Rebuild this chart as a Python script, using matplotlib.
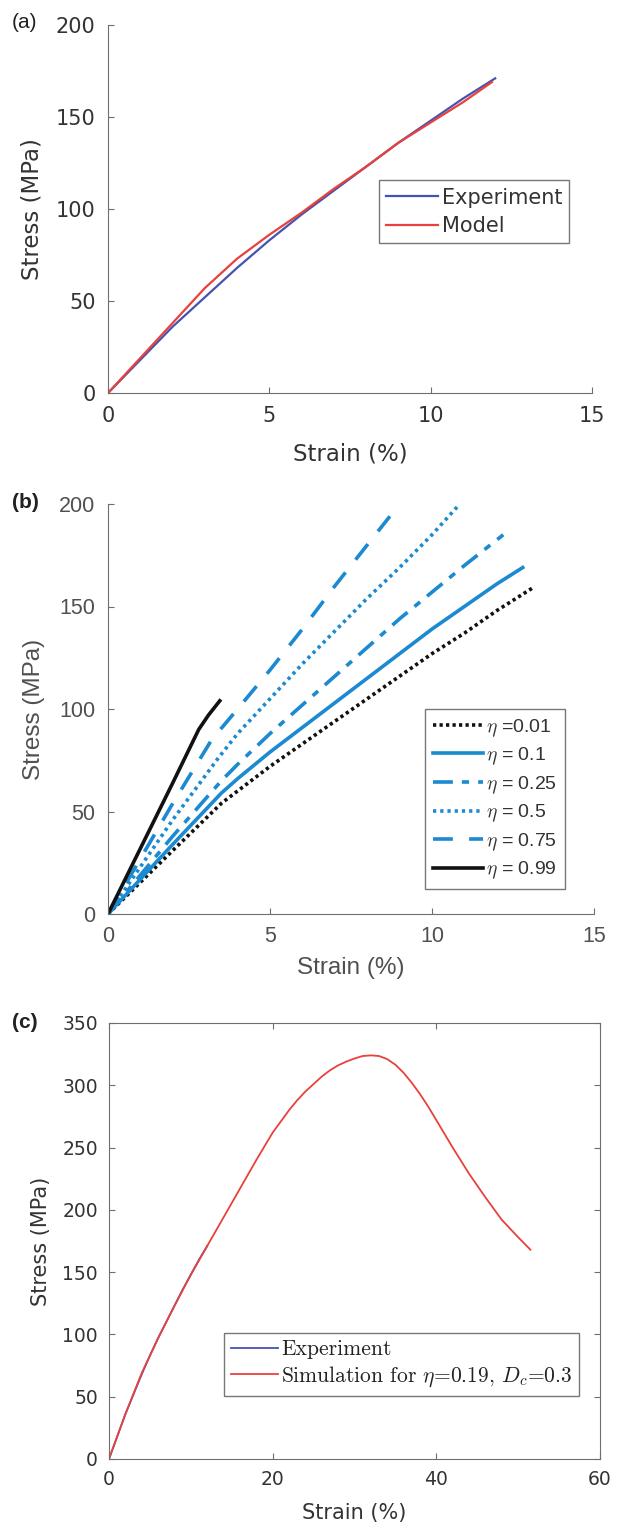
import matplotlib
matplotlib.use("Agg")
import matplotlib.pyplot as plt
from matplotlib.font_manager import FontProperties

# ---------------- data ----------------
# (a) uniaxial tension: experiment vs. model
a_exp_strain = [0, 1, 2, 3, 4, 5, 6, 7, 8, 9, 10, 11, 12.0]
a_exp_stress = [0, 18, 36, 52, 68, 83, 97, 110, 123, 136, 148, 160, 171]
a_mod_strain = [0, 1, 2, 3, 3.5, 4, 5, 6, 7, 8, 9, 10, 11, 11.9]
a_mod_stress = [0, 19, 38, 57, 65, 73, 86, 98, 111, 123, 136, 147, 158, 169]

# (b) response for several values of eta
b_labels = [r"$\eta$ =0.01", r"$\eta$ = 0.1", r"$\eta$ = 0.25",
            r"$\eta$ = 0.5", r"$\eta$ = 0.75", r"$\eta$ = 0.99"]
b_strain_001 = [0, 1, 2, 3.5, 4, 5, 6, 7, 8, 9, 10, 11, 12, 13.1]
b_stress_001 = [0, 15.5, 31, 54, 60, 72, 83, 94, 105, 116, 127, 137, 148, 159]
b_strain_010 = [0, 1, 2, 3.5, 4, 5, 6, 7, 8, 9, 10, 11, 12, 12.8]
b_stress_010 = [0, 17, 34, 59, 66, 79, 91, 103, 115, 127, 139, 150, 161, 169]
b_strain_025 = [0, 1, 2, 3.5, 4, 5, 6, 7, 8, 9, 10, 11, 12.2]
b_stress_025 = [0, 19, 38, 65, 73, 88, 102, 116, 130, 144, 157, 170, 185]
b_strain_050 = [0, 1, 2, 3.4, 4, 5, 6, 7, 8, 9, 10, 10.8]
b_stress_050 = [0, 23, 46, 76, 88, 105, 122, 138, 154, 169, 185, 199]
b_strain_075 = [0, 1, 2, 3.2, 4, 5, 6, 7, 8, 8.7]
b_stress_075 = [0, 27, 54, 85, 100, 119, 139, 160, 180, 194]
b_strain_099 = [0, 1, 2, 2.8, 3.1, 3.45]
b_stress_099 = [0, 32, 64, 90, 97, 104]

# (c) experiment vs. simulation up to failure
c_exp_strain = a_exp_strain
c_exp_stress = a_exp_stress
c_sim_strain = [0, 2, 4, 6, 8, 10, 12, 14, 16, 18, 20, 21, 22, 23, 24, 25, 26,
                27, 28, 29, 30, 31, 32, 33, 34, 35, 36, 37, 38, 39, 40, 41, 42,
                43, 44, 45, 46, 47, 48, 49, 50, 51.5]
c_sim_stress = [0, 36, 69, 97, 123, 148, 171, 194, 217, 240, 262, 271, 280, 288,
                295, 301, 307, 312, 316, 319, 321.5, 323.5, 324, 323.5, 321,
                316.5, 310, 302, 293, 283, 272, 261, 250, 239.5, 229, 219.5,
                210, 201, 192, 185, 178, 168]

W, H = 619, 1527
fig = plt.figure(figsize=(W / 100, H / 100), dpi=100)


def axes_px(left, top, right, bottom):
    return fig.add_axes([left / W, 1 - bottom / H, (right - left) / W, (bottom - top) / H])


spine_col = "#6e6e6e"
text_col = "#333333"
blue_a, red_a = "#4453b0", "#e8413c"
cyan = "#1b8ad0"

# ---------------- (a) ----------------
ax = axes_px(108, 25, 592, 393)
ax.plot(a_exp_strain, a_exp_stress, color=blue_a, lw=1.6, label="Experiment")
ax.plot(a_mod_strain, a_mod_stress, color=red_a, lw=1.6, label="Model")
ax.set_xlim(0, 15)
ax.set_ylim(0, 200)
ax.set_xticks([0, 5, 10, 15])
ax.set_yticks([0, 50, 100, 150, 200])
for s in ("top", "right"):
    ax.spines[s].set_visible(False)
for s in ("left", "bottom"):
    ax.spines[s].set_color(spine_col)
ax.tick_params(direction="in", length=4, color=spine_col, labelcolor=text_col,
               labelsize=15)
ax.tick_params(axis="x", pad=9)
ax.tick_params(axis="y", pad=9)
ax.set_xlabel("Strain (%)", fontsize=16.5, color=text_col)
ax.set_ylabel("Stress (MPa)", fontsize=16.5, color=text_col)
ax.xaxis.set_label_coords(0.5, -0.165)
ax.xaxis.label.set_va("center")
ax.yaxis.set_label_coords(-0.157, 0.5)
ax.yaxis.label.set_va("center")
leg = ax.legend(loc="upper left", bbox_to_anchor=(8.4, 115.5),
                bbox_transform=ax.transData, borderaxespad=0, fancybox=False,
                framealpha=1, edgecolor="#777777", fontsize=15,
                handlelength=2.5, handletextpad=0.15, borderpad=0.35,
                labelspacing=0.4)
leg.get_frame().set_linewidth(1.0)
for t in leg.get_texts():
    t.set_color(text_col)
fig.text(12 / W, 1 - 23 / H, "(a)", fontsize=15, family="Liberation Sans",
         va="center", ha="left", color="#222222")

# ---------------- (b) ----------------
sans_b = "Liberation Sans"
ax = axes_px(108, 504, 594, 914)
lw_b = 2.6
ax.plot(b_strain_001, b_stress_001, color="#111111", lw=lw_b, dashes=(0.9, 0.9),
        label=b_labels[0])
ax.plot(b_strain_010, b_stress_010, color=cyan, lw=lw_b, label=b_labels[1])
ax.plot(b_strain_025, b_stress_025, color=cyan, lw=lw_b, dashes=(5.5, 2.5, 2, 2.5),
        label=b_labels[2])
ax.plot(b_strain_050, b_stress_050, color=cyan, lw=lw_b, dashes=(0.9, 1.1),
        label=b_labels[3])
ax.plot(b_strain_075, b_stress_075, color=cyan, lw=lw_b, dashes=(5.5, 4.5),
        label=b_labels[4])
ax.plot(b_strain_099, b_stress_099, color="#111111", lw=lw_b, label=b_labels[5])
ax.set_xlim(0, 15)
ax.set_ylim(0, 200)
ax.set_xticks([0, 5, 10, 15])
ax.set_yticks([0, 50, 100, 150, 200])
for s in ("top", "right"):
    ax.spines[s].set_visible(False)
for s in ("left", "bottom"):
    ax.spines[s].set_color(spine_col)
ax.tick_params(direction="in", length=4, color=spine_col, labelcolor="#505050",
               labelsize=15.5)
for lab in ax.get_xticklabels() + ax.get_yticklabels():
    lab.set_family(sans_b)
ax.tick_params(axis="x", pad=9)
ax.tick_params(axis="y", pad=9)
ax.set_xlabel("Strain (%)", fontsize=17.5, color="#505050", family=sans_b)
ax.set_ylabel("Stress (MPa)", fontsize=17.5, color="#505050", family=sans_b)
ax.xaxis.set_label_coords(0.5, -0.132)
ax.xaxis.label.set_va("center")
ax.yaxis.set_label_coords(-0.152, 0.5)
ax.yaxis.label.set_va("center")
leg = ax.legend(loc="upper left", bbox_to_anchor=(9.78, 99.9),
                bbox_transform=ax.transData, borderaxespad=0, fancybox=False,
                framealpha=1, edgecolor="#777777",
                prop=FontProperties(family=sans_b, size=14, math_fontfamily="cm"),
                handlelength=2.6, handletextpad=0.15, borderpad=0.4,
                labelspacing=0.36)
leg.get_frame().set_linewidth(1.0)
for t in leg.get_texts():
    t.set_color("#333333")
fig.text(12 / W, 1 - 503 / H, "(b)", fontsize=15, family="Liberation Sans",
         fontweight="bold", va="center", ha="left", color="#222222")

# ---------------- (c) ----------------
ax = axes_px(109, 1023, 600, 1459)
ax.plot(c_exp_strain, c_exp_stress, color=blue_a, lw=1.3, label="Experiment")
ax.plot(c_sim_strain, c_sim_stress, color=red_a, lw=1.3,
        label=r"Simulation for $\eta$=0.19, $D_c$=0.3")
ax.set_xlim(0, 60)
ax.set_ylim(0, 350)
ax.set_xticks([0, 20, 40, 60])
ax.set_yticks(range(0, 351, 50))
for s in ax.spines.values():
    s.set_color(spine_col)
ax.tick_params(direction="in", length=4, color=spine_col, labelcolor=text_col,
               labelsize=13.5, top=True, right=True)
ax.tick_params(axis="x", pad=8)
ax.tick_params(axis="y", pad=8)
ax.set_xlabel("Strain (%)", fontsize=15, color=text_col)
ax.set_ylabel("Stress (MPa)", fontsize=15, color=text_col)
ax.xaxis.set_label_coords(0.5, -0.124)
ax.xaxis.label.set_va("center")
ax.yaxis.set_label_coords(-0.138, 0.5)
ax.yaxis.label.set_va("center")
leg = ax.legend(loc="upper left", bbox_to_anchor=(14.1, 101),
                bbox_transform=ax.transData, borderaxespad=0, fancybox=False,
                framealpha=1, edgecolor="#777777",
                prop=FontProperties(family="cmr10", size=15.5, math_fontfamily="cm"),
                handlelength=2.2, handletextpad=0.15, borderpad=0.3,
                labelspacing=0.25)
leg.get_frame().set_linewidth(1.0)
for t in leg.get_texts():
    t.set_color("#222222")
fig.text(12 / W, 1 - 1023 / H, "(c)", fontsize=15, family="Liberation Sans",
         fontweight="bold", va="center", ha="left", color="#222222")

fig.savefig("out.png", dpi=100)
